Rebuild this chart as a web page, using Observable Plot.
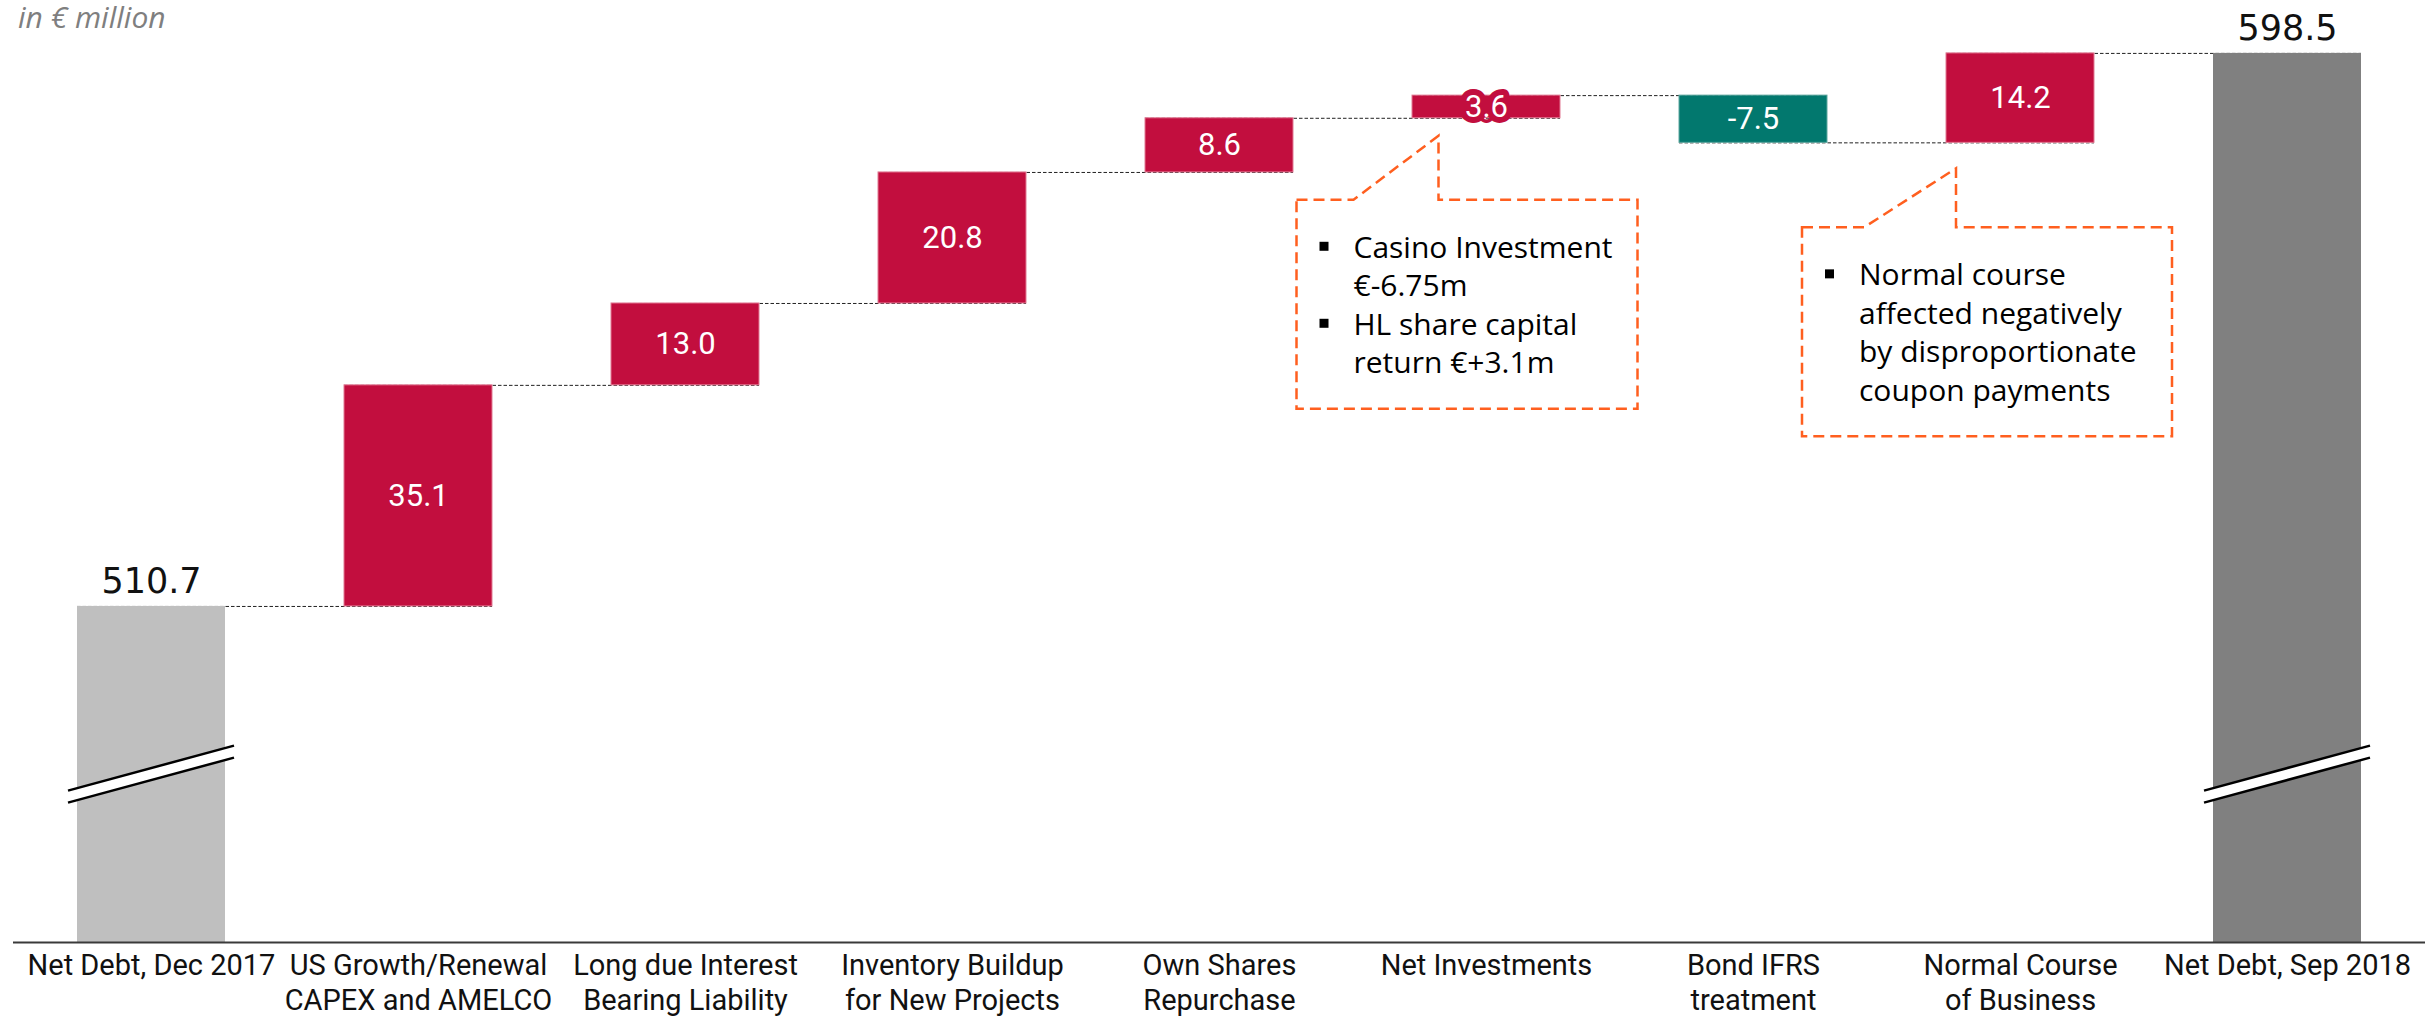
<!DOCTYPE html>
<html>
<head>
<meta charset="utf-8">
<script src="https://cdn.jsdelivr.net/npm/d3@7"></script>
<script src="https://cdn.jsdelivr.net/npm/@observablehq/plot@0.6"></script>
<style>
  html, body { margin: 0; padding: 0; background: #fff; }
  #wrap { position: relative; width: 2425px; height: 1020px; }
  #sub { position: absolute; left: 18px; top: -4px; font: italic 30px "Open Sans"; color: #7f7f7f; white-space: nowrap; }
</style>
</head>
<body>
<div id="wrap"><div id="sub">in € million</div></div>
<script>
// ---- data ----
const categories = [
  "Net Debt, Dec 2017",
  "US Growth/Renewal\nCAPEX and AMELCO",
  "Long due Interest\nBearing Liability",
  "Inventory Buildup\nfor New Projects",
  "Own Shares\nRepurchase",
  "Net Investments",
  "Bond IFRS\ntreatment",
  "Normal Course\nof Business",
  "Net Debt, Sep 2018"
];
const kinds = ["start", "up", "up", "up", "up", "up", "down", "up", "end"];
const values = [510.7, 35.1, 13.0, 20.8, 8.6, 3.6, -7.5, 14.2, 598.5];
const valueLabels = ["510.7", "35.1", "13.0", "20.8", "8.6", "3.6", "-7.5", "14.2", "598.5"];

const calloutAt = ["Net Investments", "Normal Course\nof Business"];
const calloutText = [
  [["Casino Investment", "€-6.75m"], ["HL share capital", "return €+3.1m"]],
  [["Normal course", "affected negatively", "by disproportionate", "coupon payments"]]
];

// axis break (bars start from a cut baseline)
const yFloor = 457.35, yCeil = 606.9, breakAt = 484;

// ---- derived table ----
const colors = {start: "#BFBFBF", end: "#808080", up: "#C20E3E", down: "#02786E"};
const outlines = {start: "none", end: "none", up: "#E27A94", down: "#5FA89F"};
let level = 0;
const rows = categories.map((name, i) => {
  const k = kinds[i];
  let y1, y2;
  if (k === "start" || k === "end") { y1 = yFloor; y2 = values[i]; level = values[i]; }
  else { y1 = level; y2 = level + values[i]; level = y2; }
  return {name, kind: k, y1, y2, level, label: valueLabels[i], fill: colors[k], outline: outlines[k],
          total: k === "start" || k === "end"};
});
const connectors = rows.slice(0, -1).map((r, i) => ({from: r.name, to: rows[i + 1].name, level: r.level}));

// ---- custom decorations using Plot's scales ----
function breakMarks(index, scales) {
  const x = scales.x, y = scales.y;
  const bw = x.bandwidth();
  const g = d3.create("svg:g");
  for (const r of rows.filter(d => d.total)) {
    const x0 = x(r.name) - 9, x1 = x(r.name) + bw + 9, cy = y(breakAt);
    const rise = 22.5, gap = 6;
    g.append("path")
      .attr("d", `M${x0},${cy + rise - gap}L${x1},${cy - rise - gap}L${x1},${cy - rise + gap}L${x0},${cy + rise + gap}Z`)
      .attr("fill", "white");
    for (const s of [-gap, gap]) {
      g.append("line").attr("x1", x0).attr("y1", cy + rise + s).attr("x2", x1).attr("y2", cy - rise + s)
        .attr("stroke", "#000").attr("stroke-width", 2.5);
    }
  }
  return g.node();
}

const calloutLayout = [
  {left: -189.5, right: 151.5, top: 82, bottom: 291, base: -132.5, tipX: -47.5, tipY: 18},
  {left: -218, right: 152, top: 85, bottom: 294, base: -156, tipX: -64, tipY: 26}
];
function callouts(index, scales) {
  const x = scales.x, y = scales.y;
  const bw = x.bandwidth();
  const g = d3.create("svg:g").attr("text-anchor", "start");
  calloutAt.forEach((cat, ci) => {
    const r = rows.find(d => d.name === cat);
    const L = calloutLayout[ci];
    const c = x(cat) + bw / 2;
    const yb = y(Math.min(r.y1, r.y2));
    const left = c + L.left, right = c + L.right, top = yb + L.top, bottom = yb + L.bottom;
    const tipX = c + L.tipX, tipY = yb + L.tipY, baseX = c + L.base;
    g.append("path")
      .attr("d", `M${left},${top}L${baseX},${top}L${tipX},${tipY}L${tipX},${top}L${right},${top}L${right},${bottom}L${left},${bottom}Z`)
      .attr("fill", "white").attr("stroke", "#FF5F1F").attr("stroke-width", 2.5)
      .attr("stroke-dasharray", "11,6").attr("stroke-linejoin", "miter");
    let line = 0;
    for (const bullet of calloutText[ci]) {
      bullet.forEach((t, j) => {
        const base = top + 58 + line * 38.5;
        if (j === 0) {
          g.append("rect").attr("x", left + 23).attr("y", base - 16).attr("width", 9).attr("height", 9).attr("fill", "#000");
        }
        g.append("text").attr("x", left + 57).attr("y", base).attr("font-family", "Open Sans")
          .attr("text-anchor", "start").attr("font-size", 30).attr("fill", "#000").text(t);
        line++;
      });
    }
  });
  return g.node();
}

const plot = Plot.plot({
  width: 2425,
  height: 1020,
  marginLeft: 13,
  marginRight: 0,
  marginTop: 0,
  marginBottom: 78,
  x: {domain: categories, paddingInner: 0.444, paddingOuter: 0.225, label: null},
  y: {domain: [yFloor, yCeil], axis: null},
  style: {fontFamily: "Roboto", background: "white", overflow: "visible"},
  marks: [
    Plot.ruleY(connectors, {x1: "from", x2: "to", y: "level", stroke: "#222", strokeWidth: 1, strokeDasharray: "3.5,2"}),
    Plot.barY(rows, {x: "name", y1: "y1", y2: "y2", fill: "fill", stroke: "outline", strokeWidth: 1}),
    breakMarks,
    Plot.ruleY([yFloor], {stroke: "#3a3a3a", strokeWidth: 2}),
    Plot.axisX({tickSize: 0, tickPadding: 8, fontSize: 29, lineHeight: 1.2, fill: "#111", label: null, fontFamily: "Roboto"}),
    Plot.text(rows.filter(d => d.total), {x: "name", y: "y2", text: "label", dy: -13, lineAnchor: "bottom",
      fontFamily: "DejaVu Sans", fontSize: 35, fill: "#111"}),
    Plot.text(rows.filter(d => !d.total), {x: "name", y: d => (d.y1 + d.y2) / 2, text: "label",
      fontFamily: "Roboto", fontSize: 31, fill: "white", stroke: "fill", strokeWidth: 12}),
    callouts
  ]
});
document.getElementById("wrap").prepend(plot);
</script>
</body>
</html>
